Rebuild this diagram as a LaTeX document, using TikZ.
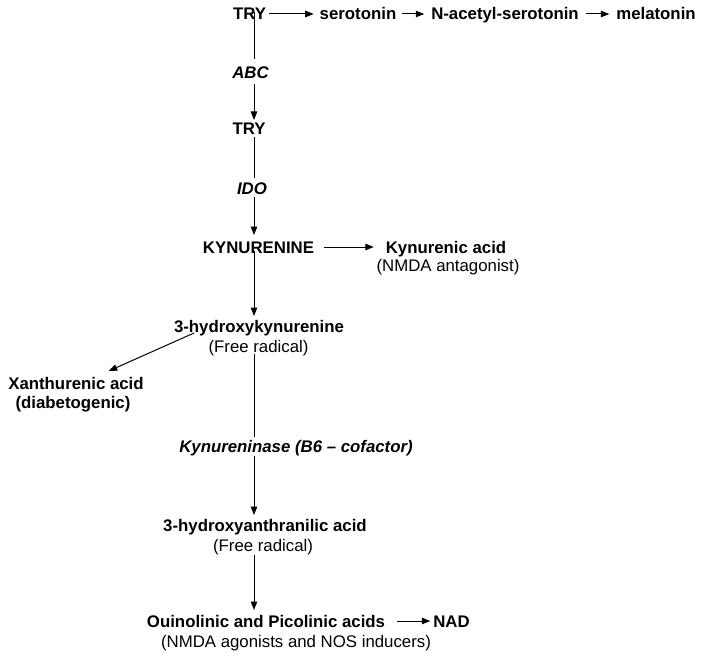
\documentclass[tikz,border=0pt]{standalone}
\usepackage{fontspec}
\setmainfont{Liberation Sans}
\usetikzlibrary{arrows.meta,calc}
\begin{document}
\begin{tikzpicture}[x=1pt,y=-1pt,
  base/.style={inner sep=0pt, outer sep=0pt, text height=12pt, text depth=0pt},
  nm/.style={base, font=\fontsize{16.8}{20}\selectfont\bfseries},
  enz/.style={base, font=\fontsize{16.8}{20}\selectfont\bfseries\itshape},
  sub/.style={base, font=\fontsize{16.8}{20}\selectfont},
  ln/.style={line width=1pt},
  arr/.style={ln, -{Triangle[length=8.5pt,width=6.5pt]}}]
\useasboundingbox (0,0) rectangle (714,658);
\coordinate (vx) at (254,0);
% nodes
\node[nm] (try1) at (249.5,14) {TRY};
\node[nm] (sero) at (358,14) {serotonin};
\node[nm] (nacet) at (505,14) {N-acetyl-serotonin};
\node[nm] (mela) at (656,14) {melatonin};
\node[enz] (abc) at (250.5,73) {ABC};
\node[nm] (try2) at (249,129) {TRY};
\node[enz] (ido) at (252,188) {IDO};
\node[nm] (kyn) at (258.5,247) {KYNURENINE};
\node[nm] (kyna) at (446,247) {Kynurenic acid};
\node[sub] (kynas) at (448,265) {(NMDA antagonist)};
\node[nm] (hk) at (259,326) {3-hydroxykynurenine};
\node[sub] (hks) at (258.5,346.5) {(Free radical)};
\node[nm] (xan) at (76,383) {Xanthurenic acid};
\node[nm] (xans) at (73,402) {(diabetogenic)};
\node[enz] (kase) at (296,446) {Kynureninase (B6 -- cofactor)};
\node[nm] (haa) at (265,525) {3-hydroxyanthranilic acid};
\node[sub] (haas) at (263,545) {(Free radical)};
\node[nm] (qa) at (266,621) {Ouinolinic and Picolinic acids};
\node[sub] (qas) at (296,641) {(NMDA agonists and NOS inducers)};
\node[nm] (nad) at (451.5,621) {NAD};
% horizontal arrows
\draw[arr] ([xshift=3pt]try1.east) -- ([xshift=-6pt]sero.west);
\draw[arr] ([xshift=6pt]sero.east) -- ([xshift=-7pt]nacet.west);
\draw[arr] ([xshift=7pt]nacet.east) -- ([xshift=-7pt]mela.west);
\draw[arr] ([xshift=10pt]kyn.east) -- ([xshift=-12pt]kyna.west);
\draw[arr] ([xshift=12pt]qa.east) -- ([xshift=-3pt]nad.west);
% vertical chain
\draw[ln] ([yshift=8pt]try1.south -| vx) -- ([yshift=8pt]abc.north -| vx);
\draw[arr] ([yshift=-5pt]abc.south -| vx) -- ([yshift=3pt]try2.north -| vx);
\draw[ln] ([yshift=-2pt]try2.south -| vx) -- ([yshift=4pt]ido.north -| vx);
\draw[arr] ([yshift=-3pt]ido.south -| vx) -- ([yshift=6pt]kyn.north -| vx);
\draw[arr] ([yshift=2pt]kyn.south -| vx) -- ([yshift=4pt]hk.north -| vx);
\draw[ln] ([yshift=-1pt]hks.south -| vx) -- ([yshift=3pt]kase.north -| vx);
\draw[arr] ([yshift=-4pt]kase.south -| vx) -- ([yshift=4pt]haa.north -| vx);
\draw[arr] ([yshift=-4pt]haas.south -| vx) -- ([yshift=5pt]qa.north -| vx);
% diagonal
\draw[arr] ($(hk.south west)+(20,1)$) -- ($(xan.north east)+(-35,-6)$);
\end{tikzpicture}
\end{document}
